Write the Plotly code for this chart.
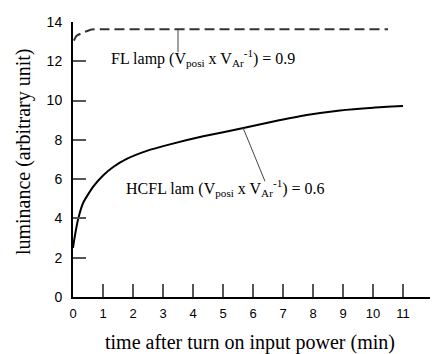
import plotly.graph_objects as go

# Data
fl_t = [0.03, 0.12, 0.4, 0.62, 1.0, 10.5]
fl_v = [13.05, 13.3, 13.5, 13.62, 13.63, 13.63]

hcfl_t = [0, 0.05, 0.17, 0.34, 0.68, 1.01, 1.34, 1.79, 2.46, 3.23, 4.34, 5.68, 6.68, 7.79, 8.9, 10.01, 11.0]
hcfl_v = [2.5, 3.0, 3.96, 4.8, 5.63, 6.2, 6.62, 7.03, 7.44, 7.77, 8.18, 8.6, 8.93, 9.26, 9.5, 9.64, 9.72]

x_ticks = list(range(0, 12))
y_ticks = list(range(0, 15, 2))

fl_label = "FL lamp (V<sub>posi</sub> x V<sub>Ar</sub><sup>-1</sup>) = 0.9"
hcfl_label = "HCFL lam (V<sub>posi</sub> x V<sub>Ar</sub><sup>-1</sup>) = 0.6"
x_title = "time after turn on input power (min)"
y_title = "luminance (arbitrary unit)"

# leader line anchors (data coords)
fl_leader = dict(x0=3.5, y0=13.63, x1=3.5, y1=12.47)
hcfl_leader = dict(x0=5.67, y0=8.61, x1=6.4, y1=5.89)

serif = "Liberation Serif"
sans = "Liberation Sans"

fig = go.Figure()
fig.add_trace(go.Scatter(x=fl_t, y=fl_v, mode="lines",
                         line=dict(color="#333333", width=2, dash="10px,5px", shape="spline", smoothing=0.6),
                         showlegend=False, hoverinfo="skip"))
fig.add_trace(go.Scatter(x=hcfl_t, y=hcfl_v, mode="lines",
                         line=dict(color="black", width=2, shape="spline", smoothing=0.5),
                         showlegend=False, hoverinfo="skip"))

for ld in (fl_leader, hcfl_leader):
    fig.add_shape(type="line", xref="x", yref="y", line=dict(color="#444444", width=1), **ld)

fig.add_annotation(x=0.363, y=0.87, xref="paper", yref="paper", text=fl_label, showarrow=False,
                   font=dict(family=serif, size=16, color="black"), xanchor="center", yanchor="middle")
fig.add_annotation(x=0.426, y=0.396, xref="paper", yref="paper", text=hcfl_label, showarrow=False,
                   font=dict(family=serif, size=16, color="black"), xanchor="center", yanchor="middle")
fig.add_annotation(x=0.496, y=-0.165, xref="paper", yref="paper", text=x_title, showarrow=False,
                   font=dict(family=serif, size=20, color="black"), xanchor="center", yanchor="middle")
fig.add_annotation(x=-0.14, y=0.527, xref="paper", yref="paper", text=y_title, showarrow=False,
                   textangle=-90, font=dict(family=serif, size=20, color="black"),
                   xanchor="center", yanchor="middle")

fig.update_xaxes(range=[0, 11.9], tickvals=x_ticks, ticks="inside", ticklen=13, tickwidth=2,
                 tickcolor="#555555", showline=True, linecolor="black", linewidth=2,
                 showgrid=False, zeroline=False, ticklabelstandoff=3,
                 tickfont=dict(family=sans, size=13, color="black"))
fig.update_yaxes(range=[0, 14], tickvals=y_ticks, ticks="inside", ticklen=13, tickwidth=2,
                 tickcolor="#555555", showline=True, linecolor="black", linewidth=2,
                 showgrid=False, zeroline=False, ticklabelstandoff=6, ticklabeloverflow="allow",
                 tickfont=dict(family=sans, size=14, color="black"))

# page body has an 8px margin: size/margins compensate so the plot lands where the reference has it
fig.update_layout(width=432, height=346, margin=dict(l=65, r=10, t=6, b=57),
                  plot_bgcolor="white", paper_bgcolor="white")

fig.write_html("out.html")
